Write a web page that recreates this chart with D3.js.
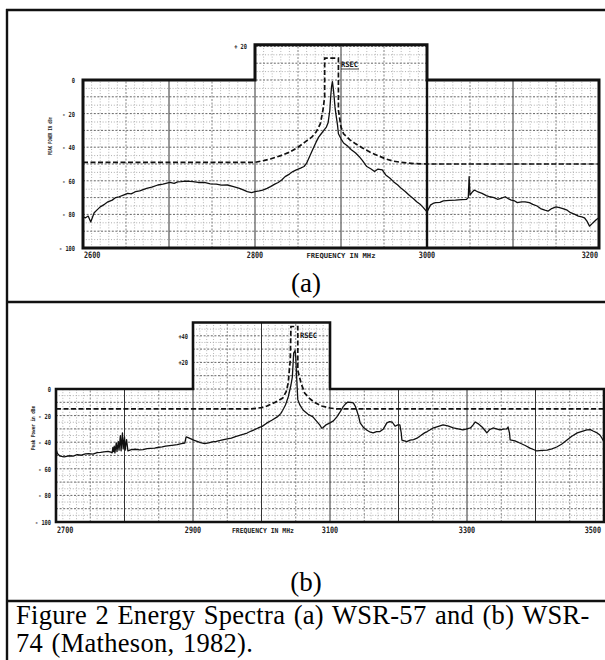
<!DOCTYPE html>
<html><head><meta charset="utf-8">
<script src="https://cdn.jsdelivr.net/npm/d3@7"></script>
<style>body{margin:0;background:#fff}svg{display:block}</style>
</head><body><svg id="c" width="605" height="660"></svg>
<script>
// ---------- DATA: panel (a) WSR-57 ----------
const freqA = [2600,2603,2606,2609,2613,2617,2620,2625,2629,2634,2638,2642,2647,2652,2656,2661,2666,2670,2674,2680,2687,2693,2701,2706,2710,2714,2720,2728,2734,2741,2748,2755,2761,2768,2775,2782,2787,2791,2796,2800,2805,2809,2814,2818,2823,2827,2831,2835,2840,2844,2848,2853,2857,2860,2864,2867,2871,2874,2877,2880,2883,2885,2887,2888,2889,2890,2891,2892,2893,2894,2896,2897,2900,2903,2908,2912,2917,2921,2925,2930,2935,2939,2943,2948,2952,2957,2961,2966,2970,2975,2979,2984,2988,2992,2995,3000,3004,3007,3010,3015,3019,3026,3033,3040,3046,3048,3049,3050,3053,3055,3060,3064,3069,3073,3078,3082,3086,3091,3095,3098,3102,3105,3110,3114,3119,3123,3128,3132,3137,3141,3145,3150,3154,3158,3163,3167,3172,3176,3180,3183,3186,3189,3192,3194,3197,3200];
const powerA = [-81.5,-82,-81,-84.5,-79,-77,-75.5,-74,-72.5,-71.5,-70,-69.5,-68.5,-67.5,-67.8,-66.5,-66,-65.2,-64.5,-63.8,-62.5,-62,-61,-61.5,-60.6,-60.5,-60.2,-60.5,-61,-61,-61.8,-62,-62.6,-62.5,-63.5,-64.5,-65.6,-66.5,-67,-66.5,-66,-65.5,-64.5,-63.5,-62,-61,-59.5,-57.5,-56,-54.5,-53.5,-52.5,-51.5,-49.5,-45,-41.5,-37,-34,-32,-30,-28,-25.5,-18,-10,-4,-1,-5,-10,-16,-20,-27,-32,-35,-37.5,-39.5,-41.5,-43.5,-45.5,-48,-51.5,-53,-54.5,-53,-53.5,-56.5,-58.5,-60.5,-62.5,-64.5,-66.5,-68.5,-70.5,-72.5,-74,-75.5,-78.5,-74.5,-73.5,-73,-72.8,-72,-71.6,-71.5,-71.2,-71,-70,-57.5,-68.5,-66.5,-65.5,-66.8,-67.5,-68.8,-69.5,-70,-71,-70.5,-69.5,-70.8,-71.5,-72,-73,-72.5,-72.5,-73,-74,-75,-76.5,-77.5,-78,-76.5,-75.5,-76,-76.5,-77.5,-79,-80,-81,-81.5,-82,-84,-87,-85.5,-84.5,-83,-82];
const maskFreqA = [2600,2800,2810,2818,2830,2840,2850,2858,2866,2871,2876,2879,2881,2881,2897,2897,2900,2903,2910,2917,2925,2934,2943,2952,2961,2970,2985,3000,3200];
const maskPowerA = [-49,-49,-48,-47,-45,-43,-40,-37,-34,-31,-26,-18,-10,13,13,-18,-28,-32,-35.5,-38,-40.5,-43,-45,-47,-48.3,-49,-49.8,-50,-50];
const xTicksA = [2600,2800,3000,3200];
const boxTicksA = [20];

// ---------- DATA: panel (b) WSR-74 ----------
const freqB = [2700,2702,2706,2712,2719,2725,2731,2737,2743,2748,2754,2760,2765,2770,2776,2780,2782,2783,2784,2785,2786,2788,2789,2791,2792,2794,2795,2797,2798,2800,2801,2803,2805,2810,2816,2822,2827,2833,2838,2844,2850,2855,2860,2866,2872,2877,2883,2888,2890,2893,2897,2901,2906,2911,2917,2923,2928,2934,2940,2945,2950,2956,2962,2968,2974,2979,2985,2990,2995,3001,3008,3015,3023,3028,3031,3035,3039,3043,3045,3046,3047,3049,3050,3051,3052,3053,3056,3061,3068,3075,3080,3085,3088,3090,3094,3100,3105,3110,3115,3119,3123,3126,3130,3134,3137,3139,3142,3144,3149,3154,3159,3163,3168,3173,3178,3183,3187,3191,3195,3199,3202,3204,3205,3212,3217,3222,3227,3231,3238,3242,3250,3256,3265,3272,3280,3287,3294,3300,3305,3309,3312,3316,3322,3326,3329,3333,3338,3343,3348,3353,3358,3360,3362,3363,3370,3377,3385,3392,3397,3402,3410,3417,3424,3431,3438,3446,3453,3461,3468,3475,3480,3484,3490,3494,3497,3500];
const powerB = [-45,-48.5,-50.5,-51,-50.2,-50.5,-49.4,-49.8,-48.8,-48.6,-48.9,-47.8,-47.6,-47.2,-46.9,-47.5,-48,-44,-47,-43,-48,-40.5,-47,-39.5,-46,-35,-46.5,-33,-45,-36,-46,-38,-46.5,-45.6,-45.3,-45.8,-45.6,-44.8,-44.6,-44.4,-43.8,-43.5,-43,-42.5,-42.2,-41.9,-41,-40.6,-36,-36.5,-37.5,-38.5,-39.4,-40.3,-41,-40.5,-39.8,-39.4,-38.7,-38,-37.5,-36.9,-35.8,-34.9,-34,-33.1,-31.6,-30.5,-29.3,-28.1,-25.5,-23.5,-21,-18.5,-16,-12,-6,3,9,18,27,29,24,12,2,-8,-12,-16,-19,-21,-24,-27,-29.5,-29,-27,-25.5,-24,-21,-17,-13.5,-11,-9.8,-10,-10.5,-13,-16,-21,-25.5,-29,-31,-32.5,-33,-32,-32,-30,-25.5,-24.5,-25,-28,-27,-27,-33,-38.5,-39.5,-38.5,-38,-37,-35.5,-33,-32,-29.5,-28.5,-27,-27.8,-29.3,-30,-30.8,-30,-29.3,-27,-24.8,-26,-28.6,-31,-33,-30.5,-29.3,-30,-30.8,-30.2,-30,-28.6,-33,-38.3,-39,-40.6,-42.5,-44.4,-45.5,-46.6,-46.2,-45.9,-45,-43.6,-41.5,-38.3,-35.5,-33,-31.8,-30.8,-30.5,-31.6,-33,-34.6,-37,-39.8];
const maskFreqB = [2700,2985,3000,3008,3020,3031,3036,3039,3042,3043,3053,3053,3058,3063,3070,3077,3088,3100,3110,3500];
const maskPowerB = [-15,-15,-14,-12.8,-10,-6.8,-2,4.5,22,47,47,14,4,-3,-7,-10,-12.8,-14.3,-15,-15];
const xTicksB = [2700,2900,3100,3300,3500];
const boxTicksB = [40,20];

const yTicks = [0,-20,-40,-60,-80,-100];
const yTickLabels = ["0","- 20","- 40","- 60","- 80","- 100"];
const boxTickLabelsA = ["+ 20"];
const boxTickLabelsB = ["+40","+20"];

// ---------- DRAW ----------
const svg = d3.select('#c');
const ink = '#111';

const frame = svg.append('g').attr('stroke', ink).attr('stroke-width', 2.4);
frame.append('line').attr('x1',7).attr('y1',9).attr('x2',7).attr('y2',660);
frame.append('line').attr('x1',6).attr('y1',10).attr('x2',605).attr('y2',10);
frame.append('line').attr('x1',6).attr('y1',302).attr('x2',605).attr('y2',302);
frame.append('line').attr('x1',6).attr('y1',601).attr('x2',605).attr('y2',601);

const panels = [
  {id:'a', freq:freqA, power:powerA, maskF:maskFreqA, maskP:maskPowerA,
   xDom:[2600,3200], xR:[83,599], yR:[248,80], box:[2800,3000], boxTop:21,
   xTicks:xTicksA, boxTicks:boxTicksA, boxLabels:boxTickLabelsA,
   yLabelX:75, boxLabelDx:-8, labelBase:258, freqLabel:'FREQUENCY IN MHz', freqX:341, freqW:69,
   yTitle:'PEAK POWER IN dBm', yTitleX:52, yTitleY:136, yTitleW:38,
   rsecX:341, rsecY:67, underline:true, frameW:3, thick3000:true, lastDx:-1,
   panelLabel:'(a)', panelY:292},
  {id:'b', freq:freqB, power:powerB, maskF:maskFreqB, maskP:maskPowerB,
   xDom:[2700,3500], xR:[56,604], yR:[522,389], box:[2900,3100], boxTop:50,
   xTicks:xTicksB, boxTicks:boxTicksB, boxLabels:boxTickLabelsB,
   yLabelX:51, boxLabelDx:-5, labelBase:533, freqLabel:'FREQUENCY IN MHz', freqX:263, freqW:62,
   yTitle:'Peak Power in dBm', yTitleX:35, yTitleY:428, yTitleW:44,
   rsecX:300, rsecY:338, underline:false, frameW:2.6, thick3000:false, lastDx:-3,
   panelLabel:'(b)', panelY:591}
];

panels.forEach(p => {
  const x = d3.scaleLinear().domain(p.xDom).range(p.xR);
  const y = d3.scaleLinear().domain([-100,0]).range(p.yR);
  const g = svg.append('g');
  const pts = [[p.xDom[0],-100],[p.xDom[0],0],[p.box[0],0],[p.box[0],p.boxTop],[p.box[1],p.boxTop],[p.box[1],0],[p.xDom[1],0],[p.xDom[1],-100]]
    .map(d => [x(d[0]), y(d[1])]);
  const clipId = 'clip-' + p.id;
  svg.append('defs').append('clipPath').attr('id', clipId)
    .append('polygon').attr('points', pts.map(d => d.join(',')).join(' '));
  const grid = g.append('g').attr('clip-path', `url(#${clipId})`);
  for (let d = -100; d <= p.boxTop; d += 5) {
    const major = d % 10 === 0;
    grid.append('line').attr('x1', p.xR[0]).attr('x2', p.xR[1]).attr('y1', y(d)).attr('y2', y(d))
      .attr('stroke', major ? '#555' : '#9a9a9a').attr('stroke-width', major ? 0.9 : 0.8)
      .attr('stroke-dasharray', major ? '2,1.6' : '1,1.8');
  }
  for (let f = p.xDom[0] + 10; f < p.xDom[1]; f += 10) {
    const hundred = f % 100 === 0, fifty = f % 50 === 0;
    grid.append('line').attr('x1', x(f)).attr('x2', x(f)).attr('y1', y(-100)).attr('y2', y(p.boxTop))
      .attr('stroke', hundred ? '#333' : (fifty ? '#666' : '#a5a5a5'))
      .attr('stroke-width', hundred ? 1 : 0.8)
      .attr('stroke-dasharray', hundred ? null : (fifty ? '2,1.5' : '1,1.8'));
  }
  g.append('polygon').attr('points', pts.map(d => d.join(',')).join(' '))
    .attr('fill', 'none').attr('stroke', ink).attr('stroke-width', p.frameW).attr('stroke-linejoin', 'miter');
  if (p.thick3000) {
    g.append('line').attr('x1', x(p.box[1])).attr('x2', x(p.box[1])).attr('y1', y(0)).attr('y2', y(-100))
      .attr('stroke', ink).attr('stroke-width', 2.4);
  }
  const line = d3.line().x(d => x(d[0])).y(d => y(d[1]));
  g.append('path').datum(p.maskF.map((f,i) => [f, p.maskP[i]]))
    .attr('d', line).attr('fill', 'none').attr('stroke', ink).attr('stroke-width', 1.7)
    .attr('stroke-dasharray', '5,2.5');
  g.append('path').datum(p.freq.map((f,i) => [f, p.power[i]]))
    .attr('d', line).attr('fill', 'none').attr('stroke', ink).attr('stroke-width', 1.3)
    .attr('stroke-linejoin', 'round');
  g.append('text').attr('x', p.rsecX).attr('y', p.rsecY)
    .attr('font-family', 'DejaVu Sans Mono').attr('font-size', 7.5).attr('font-weight', 'bold')
    .attr('fill', ink).attr('textLength', 17).attr('lengthAdjust', 'spacingAndGlyphs').text('RSEC');
  if (p.underline) {
    g.append('line').attr('x1', p.rsecX).attr('x2', p.rsecX + 18).attr('y1', p.rsecY + 2).attr('y2', p.rsecY + 2)
      .attr('stroke', ink).attr('stroke-width', 0.8);
  }
  yTicks.forEach((v,i) => {
    const lab = yTickLabels[i];
    g.append('text').attr('x', p.yLabelX).attr('y', y(v) + 3)
      .attr('text-anchor', 'end').attr('font-family', 'DejaVu Sans Mono').attr('font-size', 7)
      .attr('font-weight', 'bold').attr('fill', '#222')
      .attr('textLength', lab.length * 3.2).attr('lengthAdjust', 'spacingAndGlyphs').text(lab);
  });
  p.boxTicks.forEach((v,i) => {
    const lab = p.boxLabels[i];
    g.append('text').attr('x', x(p.box[0]) + p.boxLabelDx).attr('y', y(v) + 3)
      .attr('text-anchor', 'end').attr('font-family', 'DejaVu Sans Mono').attr('font-size', 7)
      .attr('font-weight', 'bold').attr('fill', '#222')
      .attr('textLength', lab.length * 3.2).attr('lengthAdjust', 'spacingAndGlyphs').text(lab);
  });
  p.xTicks.forEach((v,i) => {
    const last = i === p.xTicks.length - 1;
    const anchor = i === 0 ? 'start' : (last ? 'end' : 'middle');
    const tx = x(v) + (i === 0 ? 1 : (last ? p.lastDx : 0));
    g.append('g').attr('transform', `translate(${tx},${p.labelBase}) scale(1,1.3)`)
      .append('text').attr('x', 0).attr('y', 0)
      .attr('text-anchor', anchor).attr('font-family', 'DejaVu Sans Mono').attr('font-size', 6.8)
      .attr('font-weight', 'bold').attr('fill', '#222').text(v);
  });
  g.append('text').attr('x', p.freqX).attr('y', p.labelBase).attr('text-anchor', 'middle')
    .attr('font-family', 'DejaVu Sans Mono').attr('font-size', 7).attr('font-weight', 'bold').attr('fill', '#222')
    .attr('textLength', p.freqW).attr('lengthAdjust', 'spacingAndGlyphs').text(p.freqLabel);
  g.append('text').attr('transform', `translate(${p.yTitleX},${p.yTitleY}) rotate(-90)`)
    .attr('text-anchor', 'middle').attr('font-family', 'DejaVu Sans Mono').attr('font-size', 5.5)
    .attr('font-weight', 'bold').attr('fill', '#222')
    .attr('textLength', p.yTitleW).attr('lengthAdjust', 'spacingAndGlyphs').text(p.yTitle);
  svg.append('text').attr('x', 306).attr('y', p.panelY).attr('text-anchor', 'middle')
    .attr('font-family', 'Liberation Serif').attr('font-size', 27).attr('fill', '#000').text(p.panelLabel);
});

// caption
const cap = svg.append('text').attr('font-family', 'Liberation Serif').attr('font-size', 26.5)
  .attr('letter-spacing', 0.3).attr('word-spacing', 1.5).attr('fill', '#000');
cap.append('tspan').attr('x', 16).attr('y', 624).text('Figure 2 Energy Spectra (a) WSR-57 and (b) WSR-');
cap.append('tspan').attr('x', 16).attr('y', 652).text('74 (Matheson, 1982).');
</script></body></html>
